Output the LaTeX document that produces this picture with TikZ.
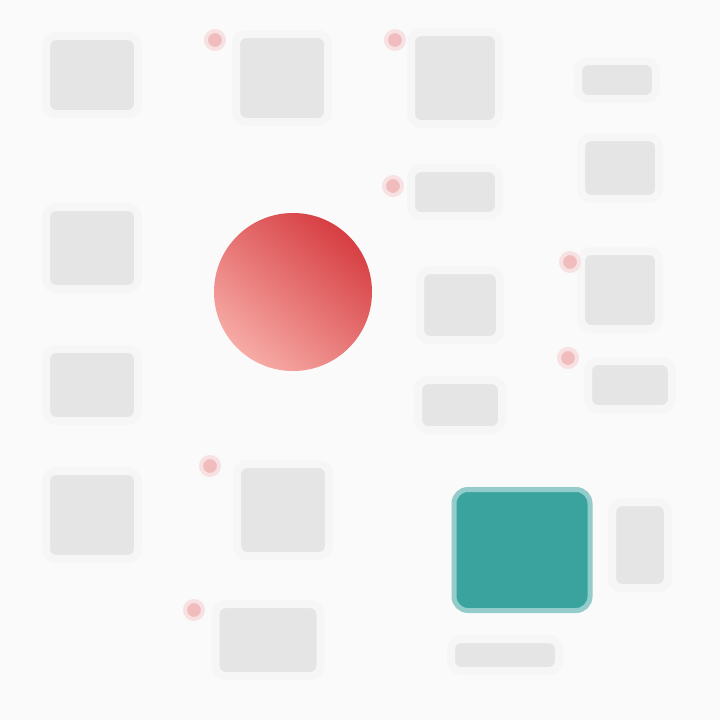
\documentclass[tikz,border=0pt]{standalone}
\usepackage{tikz}
\usetikzlibrary{calc}
\definecolor{coral}{HTML}{D63E42}
\definecolor{blush}{HTML}{F7ABA6}
\definecolor{dotpink}{HTML}{F0BCBE}
\definecolor{tealbox}{HTML}{3AA39E}
\definecolor{haze}{HTML}{E5E5E5}
\definecolor{paper}{HTML}{FAFAFA}

\tikzset{
  blk/.style={fill=haze, draw=haze!35, line width=8pt, rounded corners=10pt, inner sep=0pt},
  reddot/.style={circle, fill=dotpink, draw=dotpink!45, line width=4pt, minimum size=18pt, inner sep=0pt},
}

\begin{document}
\begin{tikzpicture}[x=1pt, y=-1pt]
      \fill[paper] (0,0) rectangle (720,720);
      \useasboundingbox (0,0) rectangle (720,720);

      % text blocks, left column
      \node[blk, minimum width=92pt, minimum height=78pt] (l1) at (92,75) {};
      \node[blk, minimum width=92pt, minimum height=82pt] (l2) at (92,248) {};
      \node[blk, minimum width=92pt, minimum height=72pt] (l3) at (92,385) {};
      \node[blk, minimum width=92pt, minimum height=88pt] (l4) at (92,515) {};

      % middle columns
      \node[blk, minimum width=92pt, minimum height=88pt] (m1) at (282,78) {};
      \node[blk, minimum width=88pt, minimum height=92pt] (n1) at (455,78) {};
      \node[blk, minimum width=88pt, minimum height=48pt] (n2) at (455,192) {};
      \node[blk, minimum width=80pt, minimum height=70pt] (n3) at (460,305) {};
      \node[blk, minimum width=84pt, minimum height=50pt] (n4) at (460,405) {};
      \node[blk, minimum width=92pt, minimum height=92pt] (m2) at (283,510) {};
      \node[blk, minimum width=105pt, minimum height=72pt] (m3) at (268,640) {};

      % right column
      \node[blk, minimum width=78pt, minimum height=38pt] (r1) at (617,80) {};
      \node[blk, minimum width=78pt, minimum height=62pt] (r2) at (620,168) {};
      \node[blk, minimum width=78pt, minimum height=78pt] (r3) at (620,290) {};
      \node[blk, minimum width=84pt, minimum height=48pt] (r4) at (630,385) {};
      \node[blk, minimum width=56pt, minimum height=86pt] (r5) at (640,545) {};
      \node[blk, minimum width=108pt, minimum height=32pt] (r6) at (505,655) {};

      % red markers
      \node[reddot] (d1) at (215,40) {};
      \node[reddot] (d2) at (395,40) {};
      \node[reddot] (d3) at (393,186) {};
      \node[reddot] (d4) at (570,262) {};
      \node[reddot] (d5) at (568,358) {};
      \node[reddot] (d6) at (210,466) {};
      \node[reddot] (d7) at (194,610) {};

      % centre circle and panel
      \node[circle, minimum size=158pt, inner sep=0pt, left color=blush, right color=coral, shading angle=140] (core) at (293,292) {};
      \node[fill=tealbox, draw=tealbox!55, line width=5pt, rounded corners=14pt, minimum width=136pt, minimum height=121pt] (panel) at (522,550) {};
    \end{tikzpicture}
\end{document}
